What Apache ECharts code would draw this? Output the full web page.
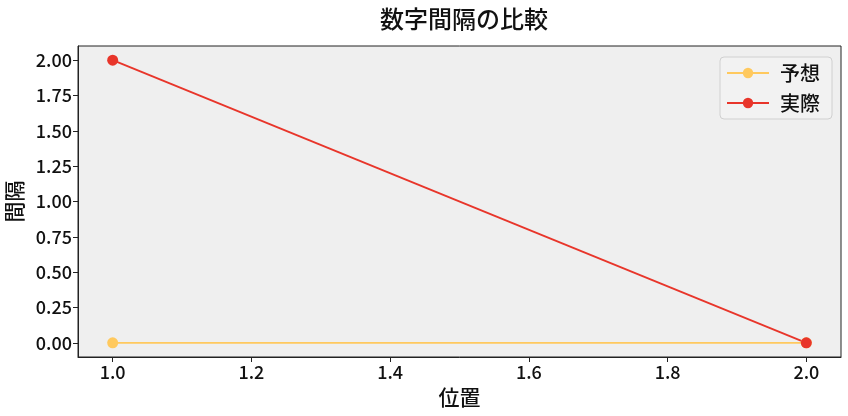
<!DOCTYPE html>
<html><head><meta charset="utf-8">
<script src="https://cdn.jsdelivr.net/npm/echarts@6/dist/echarts.min.js"></script>
<style>html,body{margin:0;padding:0;background:#fff}#c{width:848px;height:416px}</style>
</head><body><div id="c"></div>
<script>
const positions = [1, 2];
const expected = [0, 0];
const actual = [2, 0];
const xTicks = [1.0, 1.2, 1.4, 1.6, 1.8, 2.0];
const yTicks = [0, 0.25, 0.5, 0.75, 1.0, 1.25, 1.5, 1.75, 2.0];
const FONT = '"Noto Sans CJK JP", "Noto Sans", sans-serif';
const chart = echarts.init(document.getElementById('c'));
chart.setOption({
  animation: false,
  backgroundColor: '#fff',
  title: { text: '数字間隔の比較', left: 459, textAlign: 'center', top: 2,
    textStyle: { fontFamily: FONT, fontSize: 24, fontWeight: 500, color: '#111' } },
  legend: {
    right: 16, top: 57, orient: 'vertical', itemGap: 10,
    itemWidth: 42, itemHeight: 13,
    padding: [6, 12, 6, 6],
    backgroundColor: 'rgba(242,242,242,0.9)', borderColor: '#d0d0d0', borderWidth: 1, borderRadius: 4,
    textStyle: { fontFamily: FONT, fontSize: 20, fontWeight: 500, color: '#111', padding: [0, 0, 0, 6] },
    data: ['予想', '実際']
  },
  grid: { left: 78, right: 7, top: 46, bottom: 59, containLabel: false, outerBoundsMode: 'none',
    show: true, backgroundColor: '#efefef', borderColor: '#222', borderWidth: 1 },
  xAxis: {
    type: 'value', min: 0.95, max: 2.05,
    name: '位置', nameLocation: 'middle', nameGap: 30,
    nameTextStyle: { fontFamily: FONT, fontSize: 21, fontWeight: 500, color: '#111' },
    axisLine: { show: true, onZero: false, lineStyle: { color: '#222' } },
    axisTick: { show: true, customValues: xTicks, length: 5, lineStyle: { color: '#222' } },
    axisLabel: { customValues: xTicks, fontFamily: FONT, fontSize: 18, fontWeight: 500, color: '#111', margin: 6,
      formatter: v => v.toFixed(1) },
    splitLine: { show: false }
  },
  yAxis: {
    type: 'value', min: -0.1, max: 2.1,
    name: '間隔', nameLocation: 'middle', nameGap: 47,
    nameTextStyle: { fontFamily: FONT, fontSize: 21, fontWeight: 500, color: '#111' },
    axisLine: { show: true, onZero: false, lineStyle: { color: '#222' } },
    axisTick: { show: true, customValues: yTicks, length: 5, lineStyle: { color: '#222' } },
    axisLabel: { customValues: yTicks, fontFamily: FONT, fontSize: 18, fontWeight: 500, color: '#111', margin: 6,
      formatter: v => v.toFixed(2) },
    splitLine: { show: false }
  },
  series: [
    { name: '予想', type: 'line', data: positions.map((x, i) => [x, expected[i]]),
      symbol: 'circle', symbolSize: 11, color: '#ffc95e', lineStyle: { width: 1.8, color: '#ffc95e' } },
    { name: '実際', type: 'line', data: positions.map((x, i) => [x, actual[i]]),
      symbol: 'circle', symbolSize: 11, color: '#e8352a', lineStyle: { width: 1.8, color: '#e8352a' } }
  ]
});
</script></body></html>
